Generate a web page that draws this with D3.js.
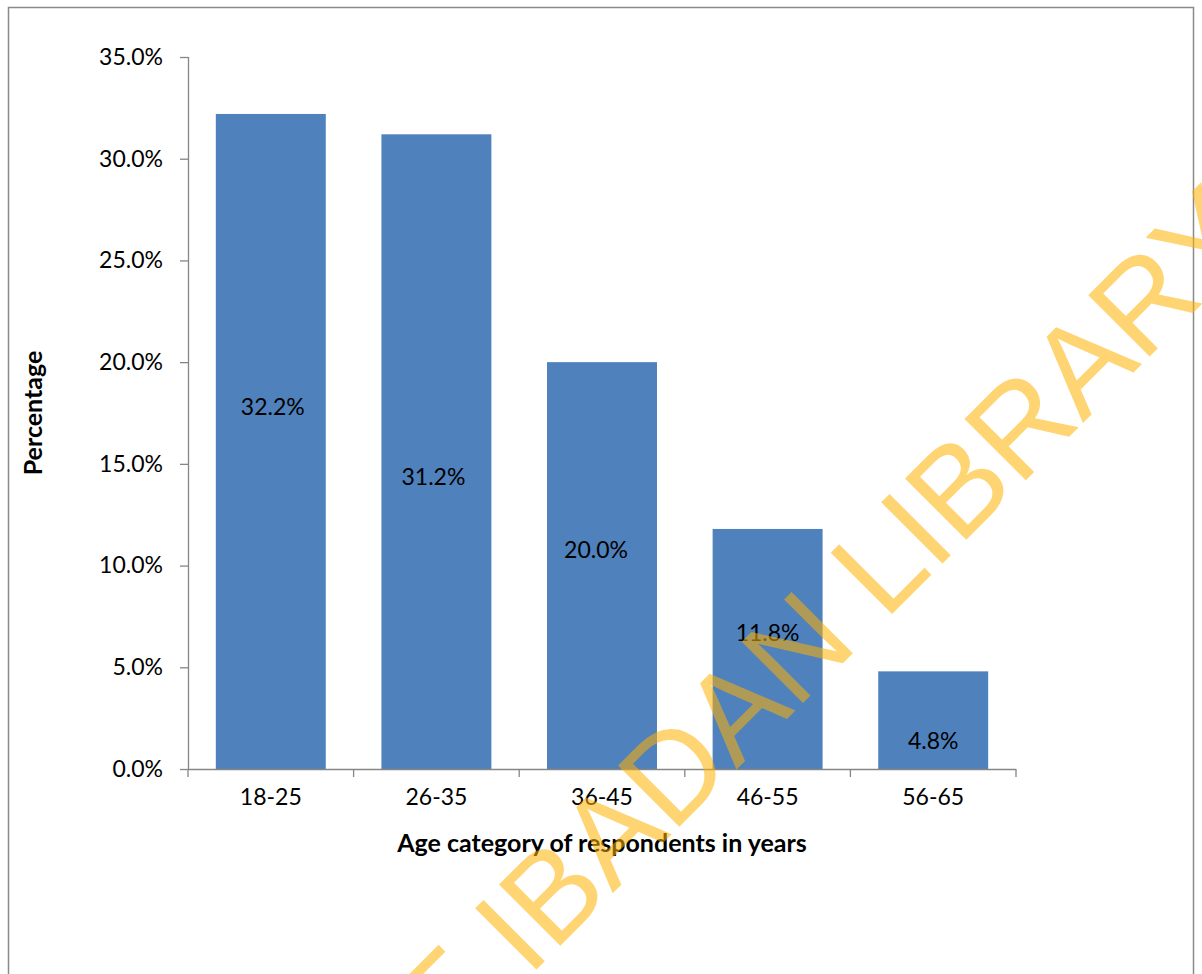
<!DOCTYPE html>
<html>
<head>
<meta charset="utf-8">
<script src="https://cdn.jsdelivr.net/npm/d3@7"></script>
<style>
  html, body { margin: 0; padding: 0; background: #fff; }
  svg { display: block; }
</style>
</head>
<body>
<svg id="chart" width="1202" height="974"></svg>
<script>
// Age distribution of respondents
const categories = ["18-25", "26-35", "36-45", "46-55", "56-65"];
const percentages = [32.2, 31.2, 20.0, 11.8, 4.8];
const yTickValues = [0, 5, 10, 15, 20, 25, 30, 35];
const yTitle = "Percentage";
const xTitle = "Age category of respondents in years";
const watermarkText = "UNIVERSITY OF IBADAN LIBRARY";

const W = 1202, H = 974;
const plot = { left: 188, right: 1016, top: 57, bottom: 769 };
const axisColor = "#868686";
const barColor = "#4F81BD";
const font = "Lato, 'Open Sans', sans-serif";

const svg = d3.select("#chart");

// outer chart frame
svg.append("rect")
  .attr("x", 8.5).attr("y", 7.5)
  .attr("width", 1185).attr("height", 1000)
  .attr("fill", "#fff")
  .attr("stroke", "#8a8a8a").attr("stroke-width", 1.5);

const x = d3.scaleBand()
  .domain(categories)
  .range([plot.left, plot.right])
  .paddingInner(0.336)
  .paddingOuter(0.168);

const y = d3.scaleLinear()
  .domain([0, 35])
  .range([plot.bottom, plot.top]);

// bars
svg.append("g").selectAll("rect")
  .data(categories)
  .join("rect")
  .attr("x", d => x(d))
  .attr("y", (d, i) => y(percentages[i]))
  .attr("width", x.bandwidth())
  .attr("height", (d, i) => y(0) - y(percentages[i]))
  .attr("fill", barColor);

// value labels inside the bars, nudged as placed in the original layout
const labelNudge = [[2, -35], [-3, 25], [-6, -16], [0, -16], [0, 21]];
svg.append("g").selectAll("text")
  .data(categories)
  .join("text")
  .attr("x", (d, i) => x(d) + x.bandwidth() / 2 + labelNudge[i][0])
  .attr("y", (d, i) => (y(percentages[i]) + y(0)) / 2 + labelNudge[i][1])
  .attr("dy", "0.36em")
  .attr("text-anchor", "middle")
  .attr("font-family", font)
  .attr("font-size", 23)
  .attr("fill", "#000")
  .text((d, i) => percentages[i].toFixed(1) + "%");

// y axis
const yAxis = d3.axisLeft(y)
  .tickValues(yTickValues)
  .tickSize(8)
  .tickPadding(17)
  .tickFormat(d => d.toFixed(1) + "%");
const gy = svg.append("g")
  .attr("transform", `translate(${plot.left},0)`)
  .call(yAxis);
gy.select(".domain").attr("stroke", axisColor).attr("stroke-width", 1.3)
  .attr("d", `M0.5,${plot.top}V${plot.bottom}`);
gy.selectAll(".tick line").attr("stroke", axisColor).attr("stroke-width", 1.3);
gy.selectAll(".tick text")
  .attr("font-family", font).attr("font-size", 23).attr("fill", "#000");

// x axis: labels at category centres, tick marks at category boundaries
const xAxis = d3.axisBottom(x).tickSize(0).tickPadding(20);
const gx = svg.append("g")
  .attr("transform", `translate(0,${plot.bottom})`)
  .call(xAxis);
gx.select(".domain").remove();
gx.selectAll(".tick text")
  .attr("font-family", font).attr("font-size", 23).attr("fill", "#000");

const boundaries = categories.map(c => x(c) - x.step() * x.paddingInner() / 2)
  .concat([plot.right]);
boundaries[0] = plot.left;
const gxl = svg.append("g").attr("transform", `translate(0,${plot.bottom})`);
gxl.append("path")
  .attr("d", `M${plot.left},0.5H${plot.right}`)
  .attr("stroke", axisColor).attr("stroke-width", 1.3).attr("fill", "none");
gxl.selectAll("line")
  .data(boundaries)
  .join("line")
  .attr("x1", d => d).attr("x2", d => d)
  .attr("y1", 0).attr("y2", 8)
  .attr("stroke", axisColor).attr("stroke-width", 1.3);

// axis titles
svg.append("text")
  .attr("x", (plot.left + plot.right) / 2)
  .attr("y", 852)
  .attr("text-anchor", "middle")
  .attr("font-family", font).attr("font-weight", "bold").attr("font-size", 25)
  .attr("fill", "#000")
  .text(xTitle);

svg.append("text")
  .attr("transform", `translate(42,${(plot.top + plot.bottom) / 2}) rotate(-90)`)
  .attr("text-anchor", "middle")
  .attr("font-family", font).attr("font-weight", "bold").attr("font-size", 25)
  .attr("fill", "#000")
  .text(yTitle);

// diagonal library watermark across the page
svg.append("text")
  .attr("transform", "translate(-178,1684) rotate(-45)")
  .attr("font-family", "'Liberation Sans', Arial, sans-serif")
  .attr("font-size", 126)
  .attr("fill", "#FFB000")
  .attr("fill-opacity", 0.55)
  .text(watermarkText);
</script>
</body>
</html>
